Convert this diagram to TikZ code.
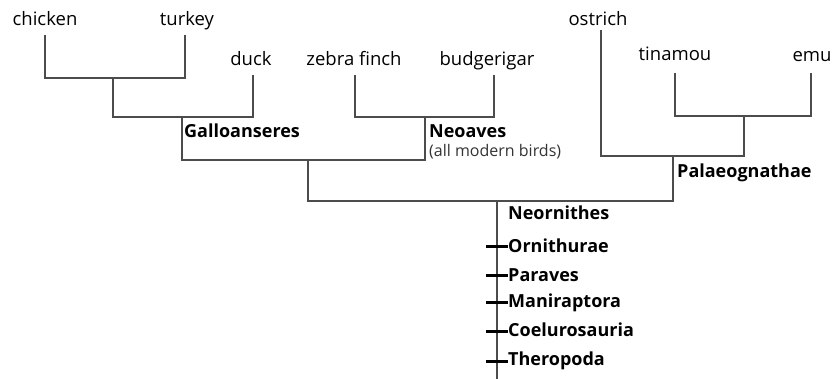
\documentclass[tikz,border=0pt]{standalone}
\usepackage{fontspec}
\setmainfont{Open Sans}
\begin{document}
\begin{tikzpicture}[x=1pt,y=-1pt,
  leaf/.style={anchor=base,inner sep=0pt,font=\fontsize{18.5}{21}\selectfont},
  clade/.style={anchor=base west,inner sep=0pt,font=\fontsize{18}{21}\selectfont\bfseries},
  note/.style={anchor=base west,inner sep=0pt,font=\fontsize{16}{19}\selectfont,text=black!80},
  branch/.style={draw=black!70,line width=1.2pt},
  tick/.style={draw=black,line width=3pt}]
\useasboundingbox (0,0) rectangle (833,379);
% leaves
\node[leaf] (chicken) at (45,26) {chicken};
\node[leaf] (turkey) at (187,26) {turkey};
\node[leaf] (duck) at (251,66) {duck};
\node[leaf] (zebra) at (354,66) {zebra finch};
\node[leaf] (budgie) at (487,66) {budgerigar};
\node[leaf] (ostrich) at (598,26) {ostrich};
\node[leaf] (tinamou) at (675,61) {tinamou};
\node[leaf] (emu) at (812,62) {emu};
% line tops
\coordinate (cT) at (45,35);
\coordinate (tT) at (185,35);
\coordinate (dT) at (253,75);
\coordinate (zT) at (355,75);
\coordinate (bT) at (494,75);
\coordinate (oT) at (601,30);
\coordinate (tiT) at (675,73);
\coordinate (eT) at (811,73);
% junctions
\coordinate (j1) at (113,78);
\coordinate (gal) at (182,117);
\coordinate (neo) at (425,117);
\coordinate (neog) at (308,160);
\coordinate (te) at (744,116);
\coordinate (pal) at (673,156);
\coordinate (root) at (497,201);
\coordinate (bottom) at (497,379);
% branches
\draw[branch] (cT) |- (j1) -| (tT);
\draw[branch] (dT) |- (j1 |- gal) -- (j1);
\draw[branch] (zT) |- (neo) -| (bT);
\draw[branch] (gal) |- (neog) -| (neo);
\draw[branch] (tiT) |- (te) -| (eT);
\draw[branch] (oT) |- (pal) -| (te);
\draw[branch] (neog) |- (root) -| (pal);
\draw[branch] (root) -- (bottom);
% clade labels
\node[clade] (galL) at (184,138) {Galloanseres};
\node[clade] (neoL) at (429,138) {Neoaves};
\node[note] (neoN) at (429,157) {(all modern birds)};
\node[clade] (palL) at (677,178) {Palaeognathae};
\node[clade] (neornL) at (508,220) {Neornithes};
\node[clade] (orn) at (508,253) {Ornithurae};
\node[clade] (par) at (508,282) {Paraves};
\node[clade] (man) at (508,308) {Maniraptora};
\node[clade] (coe) at (508,337) {Coelurosauria};
\node[clade] (the) at (508,366) {Theropoda};
% ticks
\foreach \n/\y in {orn/247,par/276,man/303,coe/332,the/362}{
  \draw[tick] (486,\y) -- (\n.west |- 0,\y);
}
\end{tikzpicture}
\end{document}
